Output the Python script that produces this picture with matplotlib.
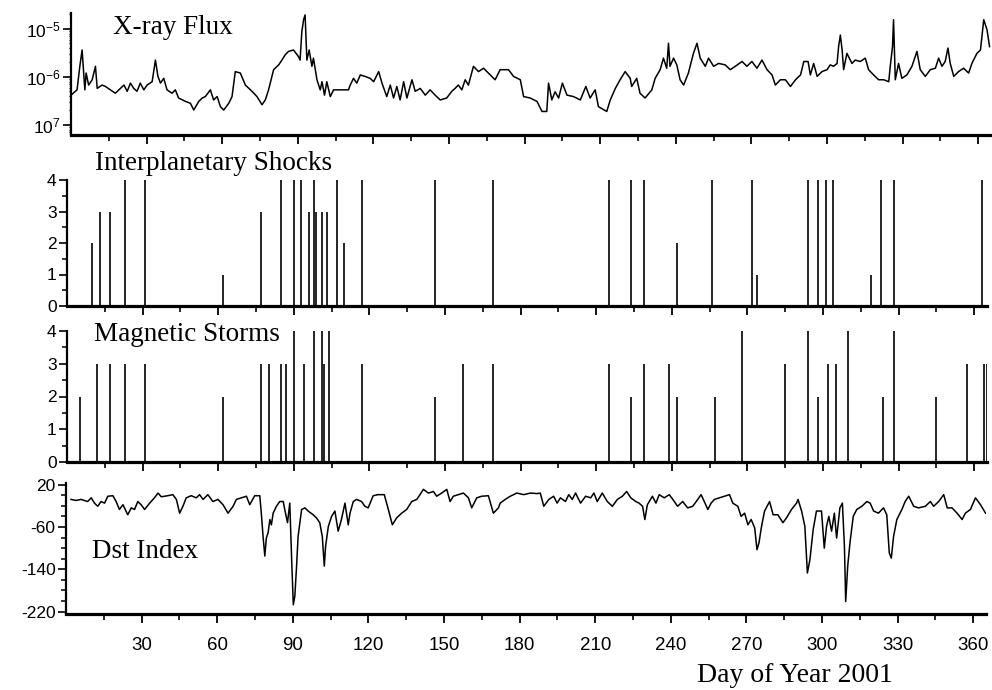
import matplotlib
matplotlib.use("Agg")
import matplotlib.pyplot as plt
import numpy as np
from matplotlib.ticker import FixedLocator, NullFormatter, LogLocator, MultipleLocator

# ---- data (day of year 2001) ----
# GOES X-ray flux, log10 of W/m^2
xray_day = [0, 2.4, 3.5, 4.4, 5.5, 6.0, 7.0, 8.4, 9.7, 10.4, 12.3, 13.7, 15.6, 17.6, 19.0,
            21.0, 22.3, 23.6, 24.9, 26.2, 27.5, 28.9, 30.2, 32.2, 33.5, 34.5, 35.5, 36.8,
            38.1, 40.1, 41.4, 42.7, 45.4, 47.4, 48.7, 50.7, 52.1, 53.3, 55.3, 56.6, 58.0,
            59.3, 60.6, 62.6, 63.9, 65.2, 67.2, 69.2, 71.8, 73.8, 75.8, 77.1, 78.4, 80.4,
            82.4, 83.7, 85.0, 86.3, 88.3, 90.3, 90.9, 91.6, 92.3, 92.9, 93.6, 94.5, 95.6,
            96.2, 97.6, 98.9, 99.6, 100.6, 101.5, 102.9, 104.2, 106.2, 110.1, 110.8, 112.1,
            113.4, 114.8, 116.7, 118.7, 120.1, 122.1, 123.4, 125.3, 126.7, 128.0, 129.3,
            130.6, 132.0, 133.3, 135.3, 136.6, 138.6, 140.6, 142.5, 144.5, 146.5, 149.1,
            151.1, 152.4, 153.7, 155.1, 156.4, 157.7, 159.7, 161.7, 163.7, 165.6, 168.3,
            170.3, 173.6, 175.6, 178.3, 179.6, 182.2, 184.9, 186.9, 188.8, 189.5, 190.8,
            192.1, 193.5, 195.0, 196.8, 199.4, 202.1, 204.3, 206.0, 208.0, 209.3, 212.6,
            214.0, 216.0, 217.9, 219.9, 221.9, 222.5, 224.5, 225.8, 227.8, 230.5, 231.8,
            233.8, 235.1, 236.4, 237.1, 237.7, 239.1, 240.4, 241.7, 243.1, 245.0, 247.0,
            248.4, 249.7, 251.7, 253.0, 255.0, 257.0, 259.6, 261.6, 263.6, 266.3, 268.2,
            270.2, 272.2, 274.2, 276.2, 278.2, 279.5, 281.5, 283.5, 285.5, 287.5, 289.5,
            290.8, 292.5, 293.4, 294.7, 296.1, 298.0, 300.0, 301.3, 302.6, 304.0, 304.6,
            305.3, 306.0, 306.6, 307.9, 309.9, 311.2, 313.2, 315.2, 316.5, 318.5, 320.5,
            322.5, 324.5, 325.1, 326.0, 326.4, 327.1, 328.4, 329.7, 331.7, 333.7, 335.7,
            337.0, 339.0, 341.0, 343.0, 344.3, 345.6, 346.9, 348.0, 348.9, 350.3, 352.2,
            354.2, 356.2, 357.5, 359.5, 360.9, 362.2, 363.5, 364.5]
xray_exp = [-6.38, -6.27, -5.78, -5.44, -6.27, -5.92, -6.17, -6.06, -5.78, -6.24, -6.17, -6.20,
            -6.27, -6.34, -6.27, -6.17, -6.30, -6.13, -6.24, -6.30, -6.13, -6.27, -6.17, -6.10,
            -5.65, -5.99, -6.13, -6.03, -6.27, -6.34, -6.27, -6.44, -6.51, -6.55, -6.69, -6.51,
            -6.44, -6.41, -6.27, -6.48, -6.41, -6.62, -6.69, -6.55, -6.41, -5.89, -5.92, -6.17,
            -6.30, -6.41, -6.58, -6.48, -6.27, -5.85, -5.75, -5.65, -5.54, -5.47, -5.44, -5.58,
            -5.65, -5.06, -4.81, -4.71, -5.65, -5.44, -5.78, -5.61, -6.06, -6.27, -6.10, -6.38,
            -6.10, -6.41, -6.27, -6.27, -6.27, -6.17, -6.03, -6.13, -5.96, -5.99, -6.03, -6.10,
            -5.89, -6.13, -6.41, -6.17, -6.44, -6.20, -6.48, -6.10, -6.44, -6.06, -6.30, -6.24,
            -6.38, -6.27, -6.38, -6.48, -6.44, -6.30, -6.24, -6.17, -6.27, -6.06, -6.17, -5.78,
            -5.89, -5.82, -5.92, -6.06, -5.85, -5.85, -5.99, -6.06, -6.41, -6.44, -6.51, -6.72,
            -6.72, -6.13, -6.48, -6.31, -6.44, -6.13, -6.38, -6.41, -6.48, -6.20, -6.44, -6.27,
            -6.62, -6.72, -6.48, -6.24, -6.06, -5.89, -6.03, -6.20, -6.03, -6.34, -6.44, -6.27,
            -6.03, -5.85, -5.61, -5.82, -5.30, -5.78, -5.61, -5.75, -6.06, -6.17, -5.92, -5.51,
            -5.30, -5.61, -5.78, -5.61, -5.78, -5.72, -5.75, -5.85, -5.78, -5.68, -5.78, -5.68,
            -5.82, -5.65, -5.85, -5.96, -6.17, -6.06, -6.06, -6.20, -6.06, -5.96, -5.68, -5.68,
            -5.96, -5.72, -5.99, -5.89, -5.85, -5.75, -5.78, -5.72, -5.37, -5.13, -5.44, -5.85,
            -5.51, -5.72, -5.65, -5.68, -5.61, -5.85, -5.96, -6.06, -6.06, -6.10, -5.78, -5.37,
            -4.81, -6.06, -5.72, -6.03, -5.96, -5.78, -5.47, -5.85, -5.99, -5.85, -5.82, -5.61,
            -5.78, -5.68, -5.40, -5.72, -5.99, -5.89, -5.82, -5.92, -5.72, -5.51, -5.44, -4.81,
            -5.02, -5.37]

# interplanetary shocks (day, intensity class)
shock_day = [10, 13, 17, 23, 31, 62, 77, 85, 90, 93, 96, 98, 99, 101, 103, 107, 110, 117,
             146, 169, 215, 224, 229, 242, 256, 272, 274, 294, 298, 301, 304, 319, 323, 328, 363]
shock_lvl = [2, 3, 3, 4, 4, 1, 3, 4, 4, 4, 3, 4, 3, 3, 3, 4, 2, 4,
             4, 4, 4, 4, 4, 2, 4, 4, 1, 4, 4, 4, 4, 1, 4, 4, 4]

# magnetic storms (day, intensity class)
storm_day = [5, 12, 17, 23, 31, 62, 77, 80, 85, 87, 90, 94, 98, 101, 102, 104, 117, 146, 157,
             169, 215, 224, 229, 239, 242, 257, 268, 285, 294, 298, 302, 305, 310, 324, 328,
             345, 357, 364, 365]
storm_lvl = [2, 3, 3, 3, 3, 2, 3, 3, 3, 3, 4, 3, 4, 4, 3, 4, 3, 2, 3,
             3, 3, 2, 3, 3, 2, 2, 4, 3, 4, 2, 3, 3, 4, 2, 4,
             2, 3, 3, 3]

# Dst index (nT)
dst_day = [2, 4, 6, 8.6, 10, 11.3, 12.6, 13.9, 15.3, 16.6, 18.6, 19.9, 21.2, 22.6, 24.5, 25.9,
           27.2, 28.5, 29.8, 31.2, 33.2, 35.1, 36.5, 37.8, 39.1, 40.4, 42.4, 43.8, 45.1, 46.4,
           47.7, 49.7, 51.7, 53.0, 54.4, 56.3, 58.3, 60.3, 62.3, 64.3, 66.3, 67.6, 69.6, 71.6,
           72.9, 74.9, 76.9, 77.5, 78.2, 78.9, 79.5, 80.2, 80.9, 81.5, 82.2, 83.5, 84.8, 86.2,
           86.8, 87.9, 88.8, 89.5, 90.2, 90.8, 91.5, 92.1, 93.5, 94.8, 96.1, 98.1, 99.4, 100.7,
           101.7, 102.5, 103.0, 104.1, 105.4, 106.7, 108.0, 109.3, 110.7, 112.0, 112.7, 114.0,
           115.3, 117.3, 118.6, 119.9, 121.9, 123.9, 126.3, 127.9, 129.5, 131.2, 133.2, 135.2,
           137.2, 139.2, 140.5, 141.8, 143.8, 145.8, 147.1, 149.1, 151.1, 152.4, 153.7, 155.7,
           157.7, 159.7, 161.0, 163.0, 165.0, 167.6, 169.6, 171.6, 172.3, 174.3, 176.3, 178.9,
           181.6, 184.3, 186.9, 188.2, 189.6, 191.6, 193.5, 194.9, 196.2, 198.2, 199.5, 200.9,
           202.2, 204.2, 206.2, 208.2, 209.5, 210.8, 212.8, 214.8, 216.8, 218.8, 220.8, 222.5,
           224.1, 226.1, 227.4, 228.8, 229.7, 230.7, 232.7, 234.1, 235.4, 237.4, 239.4, 241.4,
           242.7, 244.7, 246.7, 248.7, 250.7, 252.0, 253.3, 254.7, 256.0, 257.3, 259.3, 261.3,
           263.3, 264.6, 266.6, 267.9, 269.3, 270.6, 271.9, 273.3, 274.2, 275.0, 275.9, 277.2,
           279.2, 280.6, 282.5, 284.5, 285.9, 287.9, 289.9, 290.5, 291.9, 293.2, 294.2, 295.2,
           296.5, 297.8, 299.8, 300.9, 301.8, 302.7, 303.8, 304.9, 305.8, 307.1, 308.1, 308.9,
           309.4, 310.2, 311.1, 312.4, 313.8, 315.8, 317.8, 319.1, 320.5, 322.4, 324.4, 325.7,
           326.7, 327.5, 328.4, 329.7, 331.7, 333.0, 334.4, 336.4, 338.3, 341.0, 343.0, 344.3,
           346.3, 348.3, 349.7, 351.6, 353.6, 355.6, 356.9, 358.9, 360.9, 362.9, 364.9]
dst_val = [-8, -10, -8, -12, -5, -15, -21, -12, -15, -2, -1, -12, -27, -18, -37, -24,
           -27, -12, -18, -27, -15, -5, 4, -3, -2, -1, 1, -8, -34, -21,
           -5, -1, -5, 1, -8, 1, -12, -8, -18, -34, -21, -8, -5, -2,
           -18, -1, -1, -34, -78, -115, -81, -71, -46, -56, -34, -21, -12, -12,
           -27, -52, -15, -115, -207, -191, -134, -78, -27, -24, -30, -37, -43, -52,
           -78, -134, -97, -59, -40, -30, -68, -46, -15, -56, -34, -12,
           -8, -12, -21, -24, -1, 1, 1, -27, -56, -43, -34, -27,
           -12, -8, 1, 11, 4, 7, -2, 4, 11, -12, -2, 1,
           4, -5, -24, -5, -2, -1, -34, -24, -15, -8, -2, 4,
           1, 4, 3, 4, -21, -8, -2, -15, -5, -12, 1, -8,
           4, -15, -2, -5, 4, -12, 4, -12, -21, -8, -2, 7,
           -5, -12, -15, -21, -46, -18, -2, -15, 1, -5, 1, -12,
           -21, -12, -24, -21, -8, 1, -12, -27, -15, -8, -5, -2,
           1, -15, -21, -40, -34, -56, -46, -62, -103, -90, -62, -30,
           -12, -37, -37, -52, -43, -27, -15, -8, -30, -59, -147, -122,
           -65, -30, -30, -100, -59, -40, -68, -34, -81, -24, -15, -97,
           -201, -134, -90, -40, -27, -21, -12, -15, -30, -34, -24, -37,
           -109, -119, -78, -46, -27, -12, -2, -21, -24, -21, -12, -21,
           -12, 1, -24, -24, -34, -46, -34, -27, -5, -18, -34]

W, H = 992, 690
SCALE = 2.52  # px per day in the reference


def axes_box(x0, top, bottom):
    # x0 = pixel of day 0, top/bottom = pixel rows of the axes
    return [x0 / W, 1 - bottom / H, 365 * SCALE / W, (bottom - top) / H]


plt.rcParams['font.family'] = ['Liberation Sans', 'DejaVu Sans']
plt.rcParams['axes.unicode_minus'] = False
plt.rcParams['mathtext.fontset'] = 'custom'
plt.rcParams['mathtext.rm'] = 'Liberation Sans'
plt.rcParams['mathtext.it'] = 'Liberation Sans'

fig = plt.figure(figsize=(W / 100, H / 100), dpi=100)

ax1 = fig.add_axes(axes_box(71, 13, 135))
ax2 = fig.add_axes(axes_box(67, 180, 306))
ax3 = fig.add_axes(axes_box(67, 331, 462))
ax4 = fig.add_axes(axes_box(66, 483, 614))

for ax in (ax1, ax2, ax3, ax4):
    ax.set_xlim(0, 365)
    ax.spines['top'].set_visible(False)
    ax.spines['right'].set_visible(False)
    ax.spines['left'].set_linewidth(1.6)
    ax.spines['bottom'].set_linewidth(2.3)
    ax.xaxis.set_major_locator(FixedLocator(list(range(30, 361, 30))))
    ax.xaxis.set_minor_locator(FixedLocator(list(range(15, 366, 30))))
    ax.tick_params(axis='x', which='major', direction='out', length=6.5, width=1.3,
                   labelsize=13.5, pad=10)
    ax.tick_params(axis='x', which='minor', direction='out', length=4, width=1.2)
    ax.tick_params(axis='y', which='major', direction='out', length=6, width=1.2,
                   labelsize=12.5, pad=1.5)
    ax.tick_params(axis='y', which='minor', direction='out', length=3.5, width=1.1)
    if ax is not ax4:
        ax.xaxis.set_major_formatter(NullFormatter())

# X-ray flux
ax1.plot(xray_day, 10 ** np.array(xray_exp), color='black', lw=1.1)
ax1.set_yscale('log')
ax1.set_ylim(10 ** -7.21, 10 ** -4.67)
ax1.yaxis.set_major_locator(FixedLocator([1e-7, 1e-6, 1e-5]))
ax1.set_yticklabels(['$10^{7}$', '$10^{-6}$', '$10^{-5}$'])
ax1.yaxis.set_minor_locator(LogLocator(base=10, subs=np.arange(2, 10)))
ax1.yaxis.set_minor_formatter(NullFormatter())
ax1.tick_params(axis='y', which='minor', length=1.8, width=1.0)

# shocks and storms
for ax, days, lvls in ((ax2, shock_day, shock_lvl), (ax3, storm_day, storm_lvl)):
    ax.vlines(days, 0, lvls, color='black', lw=1.2)
    ax.set_ylim(0, 4)
    ax.yaxis.set_major_locator(MultipleLocator(1))
    ax.yaxis.set_minor_locator(MultipleLocator(0.5))

# Dst
ax4.plot(dst_day, dst_val, color='black', lw=1.1)
ax4.set_ylim(-224.5, 23)
ax4.yaxis.set_major_locator(FixedLocator([20, -60, -140, -220]))
ax4.yaxis.set_minor_locator(MultipleLocator(20))

serif = dict(family=['Liberation Serif', 'DejaVu Serif'], fontsize=19.5, va='center', ha='left')
fig.text(113 / W, 1 - 28 / H, 'X-ray Flux', **serif)
fig.text(95 / W, 1 - 163 / H, 'Interplanetary Shocks', **serif)
fig.text(94 / W, 1 - 335 / H, 'Magnetic Storms', **serif)
fig.text(92 / W, 1 - 551 / H, 'Dst Index', **serif)
fig.text(697 / W, 1 - 676 / H, 'Day of Year 2001', family=['Liberation Serif', 'DejaVu Serif'],
         fontsize=20, va='center', ha='left')

fig.savefig('out.png', dpi=100)
